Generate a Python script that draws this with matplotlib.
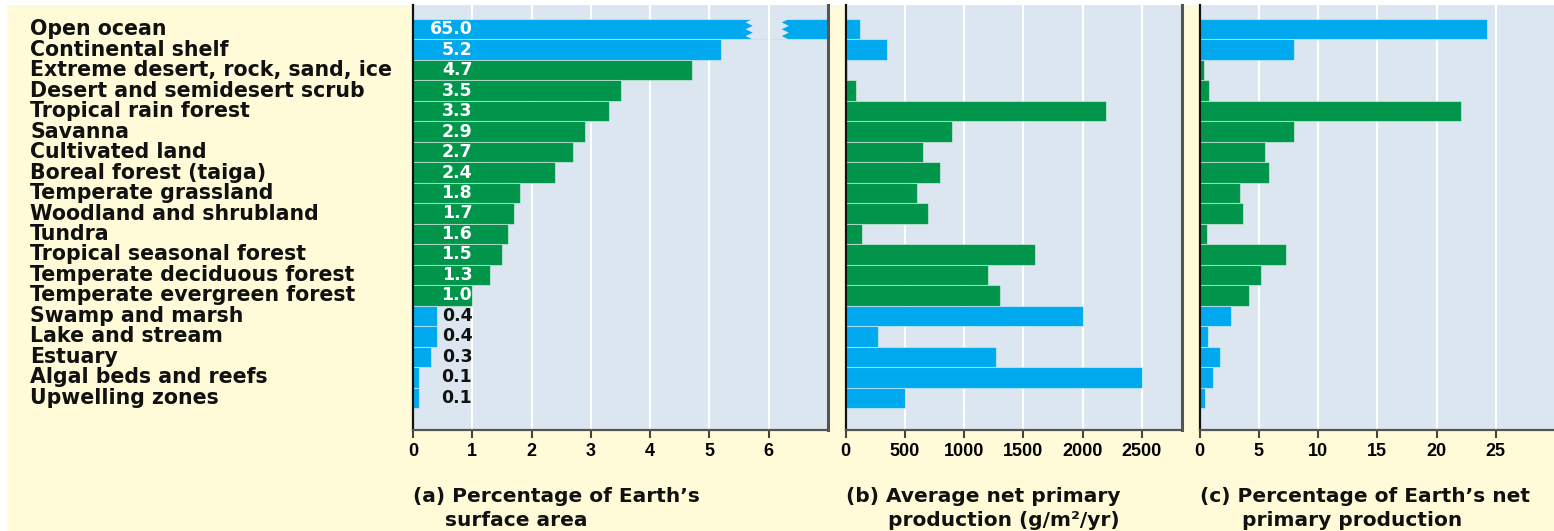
import matplotlib
matplotlib.use("Agg")
import matplotlib.pyplot as plt
from matplotlib.patches import Polygon, Rectangle
from matplotlib.transforms import blended_transform_factory
import numpy as np

categories = ["Open ocean", "Continental shelf", "Extreme desert, rock, sand, ice",
              "Desert and semidesert scrub", "Tropical rain forest", "Savanna",
              "Cultivated land", "Boreal forest (taiga)", "Temperate grassland",
              "Woodland and shrubland", "Tundra", "Tropical seasonal forest",
              "Temperate deciduous forest", "Temperate evergreen forest",
              "Swamp and marsh", "Lake and stream", "Estuary",
              "Algal beds and reefs", "Upwelling zones"]
is_aquatic = [True, True, False, False, False, False, False, False, False, False,
              False, False, False, False, True, True, True, True, True]
surface_pct = [65.0, 5.2, 4.7, 3.5, 3.3, 2.9, 2.7, 2.4, 1.8, 1.7, 1.6, 1.5, 1.3, 1.0,
               0.4, 0.4, 0.3, 0.1, 0.1]
npp_avg = [125, 350, 10, 90, 2200, 900, 650, 800, 600, 700, 140, 1600, 1200, 1300,
           2000, 270, 1270, 2500, 500]
npp_pct = [24.3, 8.0, 0.4, 0.8, 22.1, 8.0, 5.5, 5.9, 3.4, 3.7, 0.6, 7.3, 5.2, 4.2,
           2.7, 0.7, 1.7, 1.1, 0.5]
ticks_a = [0, 1, 2, 3, 4, 5, 6]
ticks_b = [0, 500, 1000, 1500, 2000, 2500]
ticks_c = [0, 5, 10, 15, 20, 25]
xlabels = [("(a) Percentage of Earth\u2019s", "surface area"),
           ("(b) Average net primary", "production (g/m\u00b2/yr)"),
           ("(c) Percentage of Earth\u2019s net", "primary production")]

BLUE = "#00A9EE"
GREEN = "#00954A"
PANEL = "#DBE6F0"
FIGBG = "#FFFBD8"

W, H = 1554, 531
fig = plt.figure(figsize=(W / 100, H / 100), dpi=100, facecolor=FIGBG)

# white strips at top and left edge
fig.patches.append(Rectangle((0, 1 - 5 / H), 1, 5 / H, transform=fig.transFigure,
                             facecolor="white", edgecolor="none", zorder=-5))
fig.patches.append(Rectangle((0, 0), 7 / W, 1, transform=fig.transFigure,
                             facecolor="white", edgecolor="none", zorder=-5))

top_px, bot_px = 5, 430
panels = [(413, 828, 7.0, ticks_a, surface_pct),
          (845.5, 1181.5, 2835, ticks_b, npp_avg),
          (1199.5, 1555, 30.0, ticks_c, npp_pct)]

n = len(categories)
y = np.arange(n)
colors = [BLUE if a else GREEN for a in is_aquatic]
row_px = (408 - 19) / n
ytop = -0.5 - (19 - top_px) / row_px
ybot = n - 0.5 + (bot_px - 408) / row_px

tick_font = dict(family=["Liberation Sans", "DejaVu Sans"], weight="bold", size=13)
axes = []
for i, (l, r, xmax, ticks, vals) in enumerate(panels):
    ax = fig.add_axes([l / W, (H - bot_px) / H, (r - l) / W, (bot_px - top_px) / H])
    ax.set_facecolor(PANEL)
    ax.set_xlim(0, xmax)
    ax.set_ylim(ybot, ytop)
    ax.set_axisbelow(True)
    ax.grid(axis="x", color="white", lw=1.6)
    ax.barh(y, vals, height=1.0, color=colors, edgecolor=(1, 1, 1, 0.45), lw=0.8, zorder=2)
    ax.set_xticks(ticks)
    ax.set_xticklabels([str(t) for t in ticks], **tick_font)
    ax.set_yticks([])
    ax.tick_params(axis="x", length=6, width=1.5, color="#444", pad=3)
    ax.spines["top"].set_visible(False)
    ax.spines["left"].set_color("#111")
    ax.spines["left"].set_linewidth(1.6)
    ax.spines["right"].set_color("#555")
    ax.spines["right"].set_linewidth(2.2)
    ax.spines["bottom"].set_color("#555")
    ax.spines["bottom"].set_linewidth(1.6)
    if i == 2:
        ax.spines["right"].set_visible(False)
    axes.append(ax)

ax_a = axes[0]
# break in the open-ocean bar
gl, gr = 5.73, 6.22
teeth = 3
ys = np.linspace(-0.5, 0.5, 2 * teeth + 1)
left_edge = [(gl - (0.12 if k % 2 else 0.0), yy) for k, yy in enumerate(ys)]
right_edge = [(gr + (0.0 if k % 2 else 0.12), yy) for k, yy in enumerate(ys)][::-1]
ax_a.add_patch(Polygon(left_edge + right_edge, closed=True, facecolor=PANEL,
                       edgecolor="none", zorder=3))
ax_a.plot([6, 6], [-0.5, 0.5], color="white", lw=1.6, zorder=3.5)

# value labels in panel (a)
lab_font = dict(family=["DejaVu Sans"], weight="bold", size=12.5)
for yy, v in zip(y, surface_pct):
    ax_a.text(1.0, yy, f"{v:.1f}", ha="right", va="center",
              color="white" if v >= 1 else "#111", zorder=4, **lab_font)

# category labels
trans = blended_transform_factory(fig.transFigure, ax_a.transData)
for yy, c in zip(y, categories):
    fig.text(30 / W, yy, c, transform=trans, ha="left", va="center",
             family=["DejaVu Sans"], weight="bold", size=14.8, color="#111")

# axis captions
cap_font = dict(family=["DejaVu Sans"], weight="bold", size=14.5, color="#111")
offsets = [32, 43, 42]
for (l, r, *_), (l1, l2), off in zip(panels, xlabels, offsets):
    fig.text(l / W, 1 - 497 / H, l1, ha="left", va="center", **cap_font)
    fig.text((l + off) / W, 1 - 520 / H, l2, ha="left", va="center", **cap_font)

fig.savefig("out.png", dpi=100, facecolor=FIGBG)
